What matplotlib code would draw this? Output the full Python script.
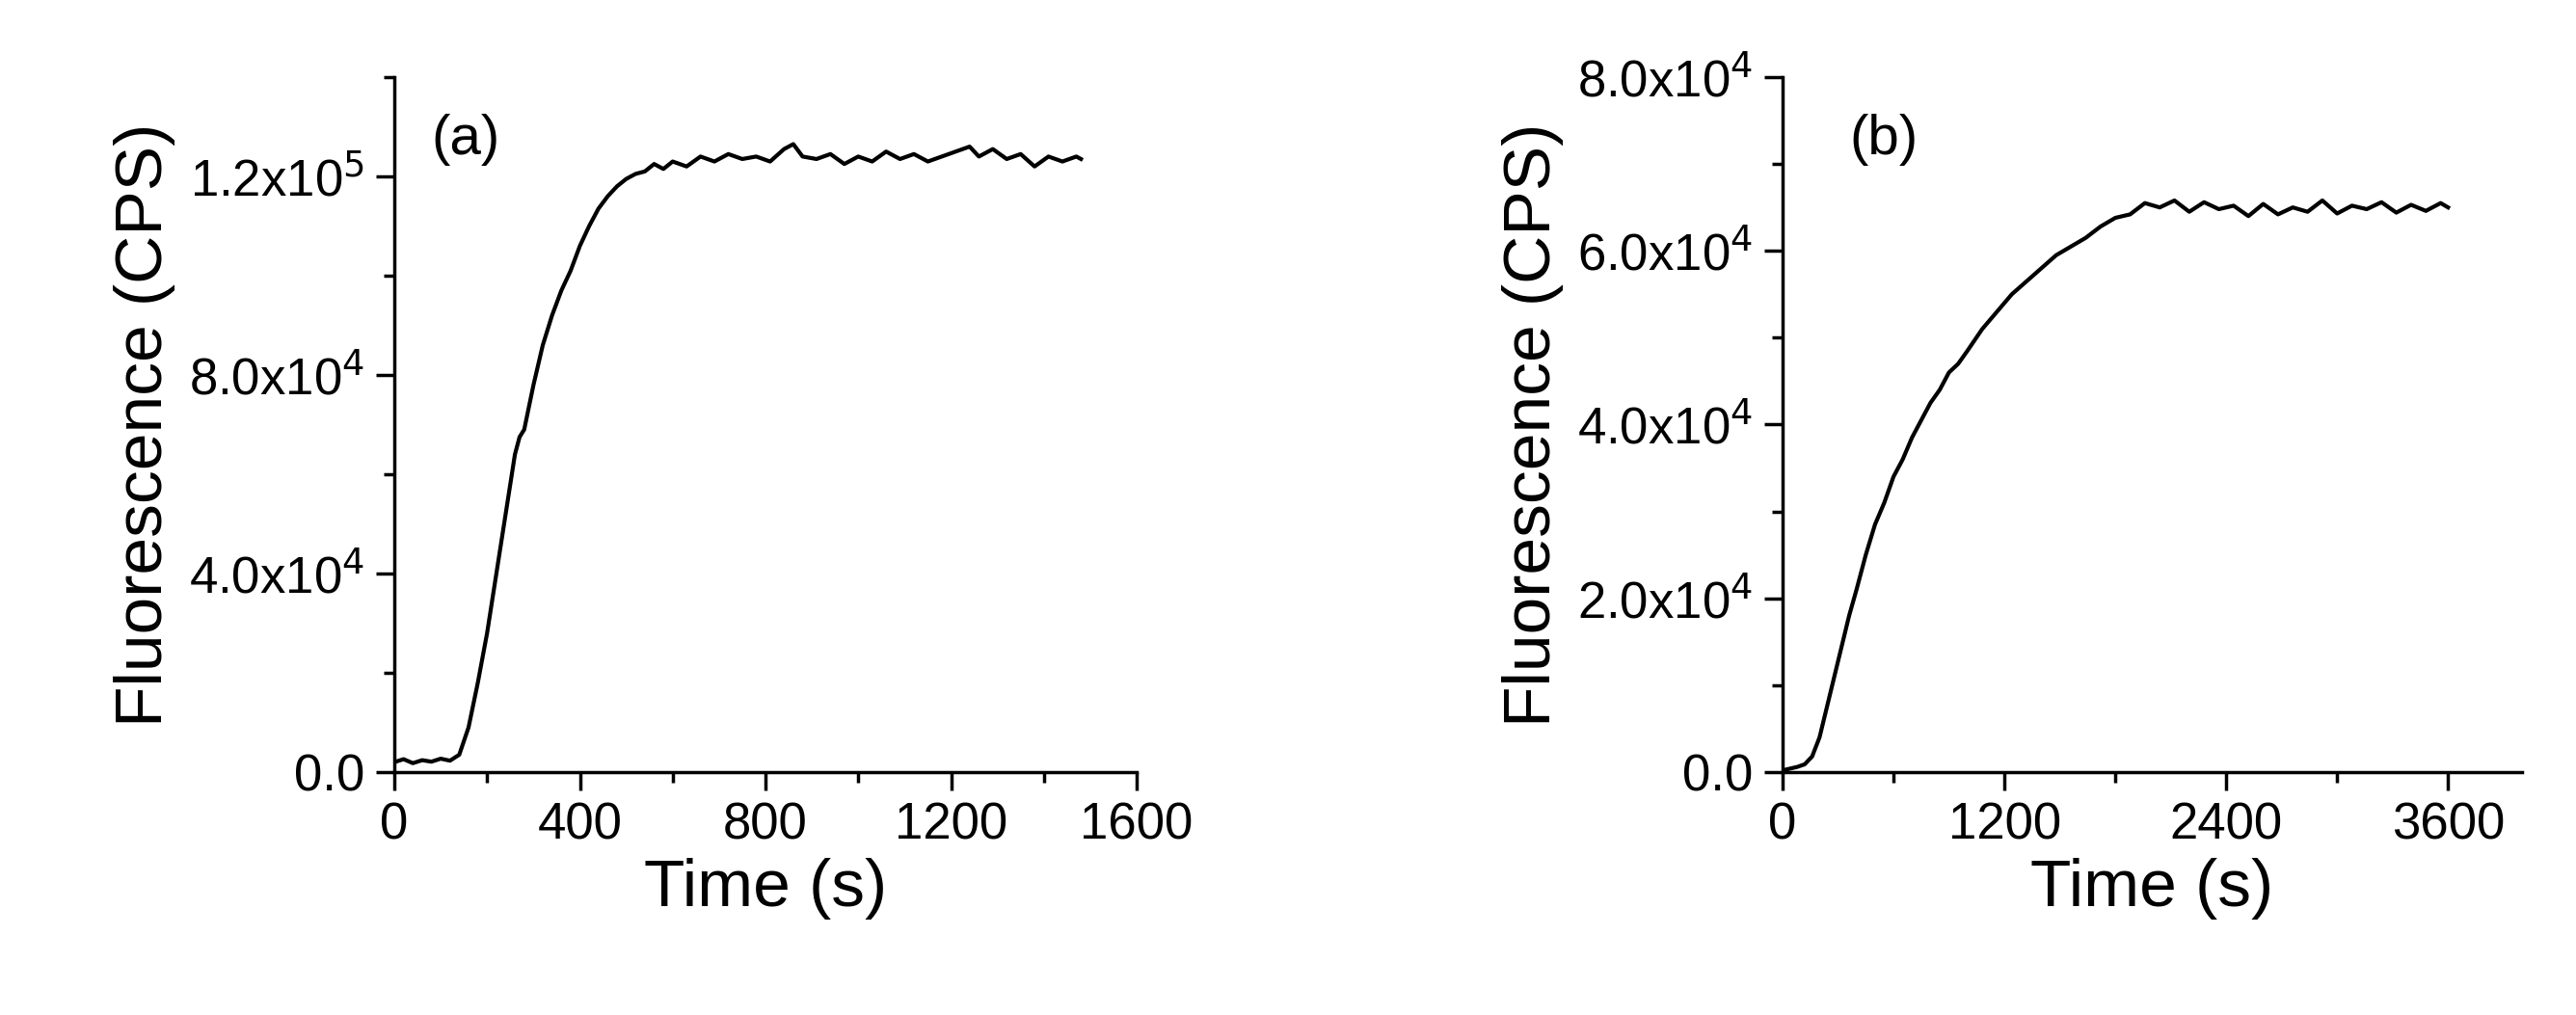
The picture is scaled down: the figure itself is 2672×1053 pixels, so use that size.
import matplotlib
matplotlib.use("Agg")
import matplotlib.pyplot as plt
from matplotlib.ticker import MultipleLocator, FixedFormatter, FixedLocator

plt.rcParams['font.family'] = ['Liberation Sans', 'DejaVu Sans']

# Panel (a)
ta = [0, 20, 40, 60, 80, 100, 120, 140, 160, 180, 200, 220, 240, 260, 270, 280, 300, 320, 340, 360, 380, 400,
      420, 440, 460, 480, 500, 520, 540, 560, 580, 600, 630, 660, 690, 720, 750, 780, 810, 840, 860, 880, 910,
      940, 970, 1000, 1030, 1060, 1090, 1120, 1150, 1180, 1210, 1240, 1260, 1290, 1320, 1350, 1380, 1410, 1440, 1470, 1480]
fa = [2000, 2600, 1800, 2400, 2100, 2700, 2300, 3500, 9000, 18000, 28000, 40000, 52000, 64000, 67500, 69000, 78000, 86000,
      92000, 97000, 101000, 106000, 110000, 113500, 116000, 118000, 119500, 120500, 121000, 122500, 121500, 123000, 122000,
      124000, 123000, 124500, 123500, 124000, 123000, 125500, 126500, 124000, 123500, 124500, 122500, 124000, 123000,
      125000, 123500, 124500, 123000, 124000, 125000, 126000, 124000, 125500, 123500, 124500, 122000, 124000, 123000, 124000, 123500]

# Panel (b)
tb = [0, 40, 80, 120, 160, 200, 240, 280, 320, 360, 400, 450, 500, 550, 600, 650, 700, 750, 800, 850, 900, 950, 1000,
      1080, 1160, 1240, 1320, 1400, 1480, 1560, 1640, 1720, 1800, 1880, 1960, 2040, 2120, 2200, 2280, 2360, 2440, 2520,
      2600, 2680, 2760, 2840, 2920, 3000, 3080, 3160, 3240, 3320, 3400, 3480, 3560, 3600]
fb = [200, 400, 600, 900, 1800, 4000, 7500, 11000, 14500, 18000, 21000, 25000, 28500, 31000, 34000, 36000, 38500, 40500,
      42500, 44000, 46000, 47000, 48500, 51000, 53000, 55000, 56500, 58000, 59500, 60500, 61500, 62800, 63800, 64200,
      65500, 65000, 65800, 64500, 65600, 64800, 65200, 64000, 65400, 64200, 65000, 64500, 65800, 64300, 65200, 64800,
      65600, 64400, 65300, 64600, 65500, 65000]

fig = plt.figure(figsize=(26.72, 10.53), dpi=100)
axa = fig.add_axes([409/2672, 1-801/1053, (1179-409)/2672, (801-80)/1053])
axb = fig.add_axes([1849/2672, 1-801/1053, (2616-1849)/2672, (801-80)/1053])

def style(ax):
    for s in ['top', 'right']:
        ax.spines[s].set_visible(False)
    for s in ['left', 'bottom']:
        ax.spines[s].set_linewidth(2.5)
    ax.tick_params(which='major', length=14, width=2.5, labelsize=38, direction='out', pad=8)
    ax.tick_params(which='minor', length=8, width=2.5, direction='out')
    ax.set_xlabel('Time (s)', fontsize=50, labelpad=6)
    ax.set_ylabel('Fluorescence (CPS)', fontsize=50, labelpad=10)

axa.plot(ta, fa, color='black', lw=3)
axa.set_xlim(0, 1600); axa.set_ylim(0, 1.4e5)
axa.xaxis.set_major_locator(MultipleLocator(400)); axa.xaxis.set_minor_locator(MultipleLocator(200))
axa.yaxis.set_major_locator(FixedLocator([0, 4e4, 8e4, 1.2e5])); axa.yaxis.set_minor_locator(MultipleLocator(2e4))
axa.yaxis.set_major_formatter(FixedFormatter(['0.0', r'4.0x10$^4$', r'8.0x10$^4$', r'1.2x10$^5$']))
axa.text(0.05, 0.91, '(a)', transform=axa.transAxes, fontsize=42, va='center')
style(axa)

axb.plot(tb, fb, color='black', lw=3)
axb.set_xlim(0, 4000); axb.set_ylim(0, 8e4)
axb.xaxis.set_major_locator(MultipleLocator(1200)); axb.xaxis.set_minor_locator(MultipleLocator(600))
axb.yaxis.set_major_locator(FixedLocator([0, 2e4, 4e4, 6e4, 8e4])); axb.yaxis.set_minor_locator(MultipleLocator(1e4))
axb.yaxis.set_major_formatter(FixedFormatter(['0.0', r'2.0x10$^4$', r'4.0x10$^4$', r'6.0x10$^4$', r'8.0x10$^4$']))
axb.text(0.09, 0.91, '(b)', transform=axb.transAxes, fontsize=42, va='center')
style(axb)

fig.savefig('out.png', dpi=100)
